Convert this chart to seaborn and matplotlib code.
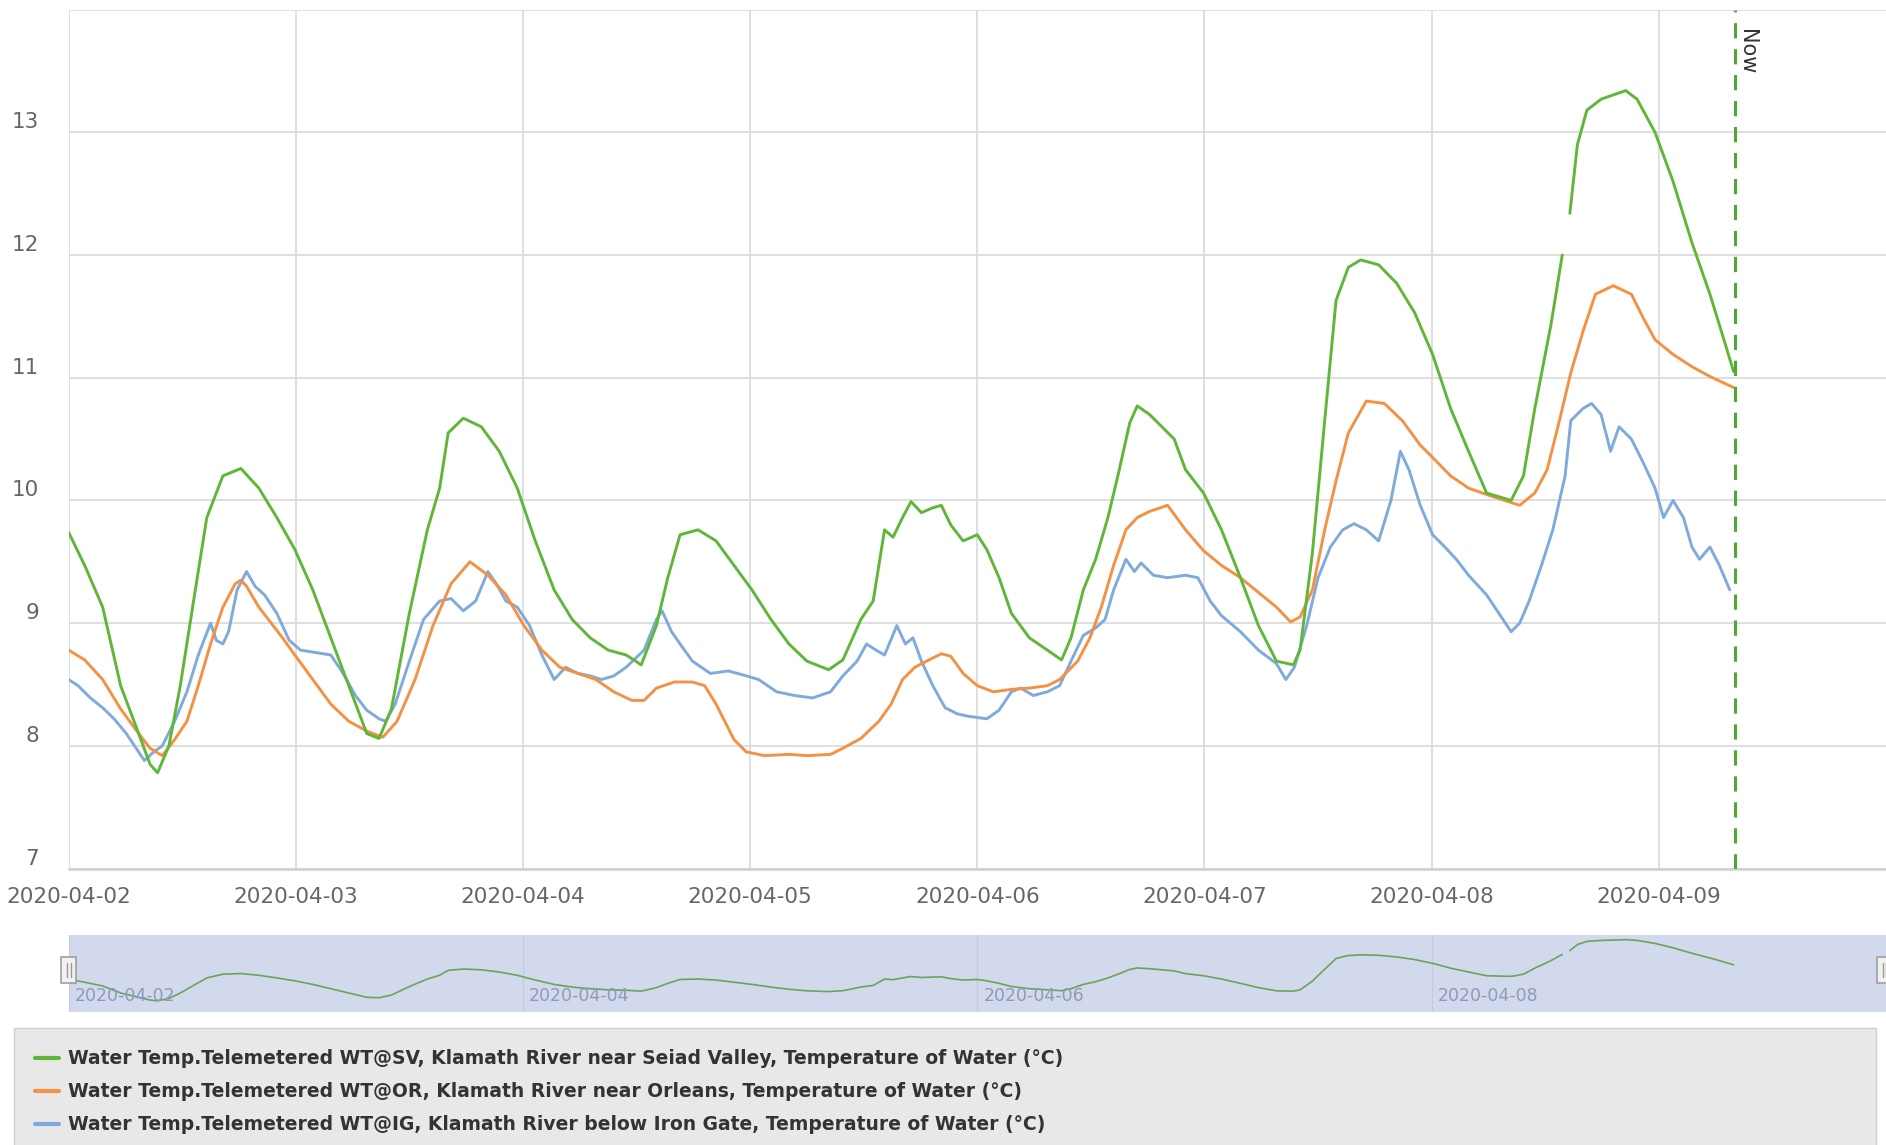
import pandas as pd
import matplotlib
matplotlib.use("Agg")
import matplotlib.pyplot as plt
import matplotlib.dates as mdates
import matplotlib.transforms as mtransforms
from matplotlib.lines import Line2D
from matplotlib.patches import Rectangle
import seaborn as sns

# === Data (hours since 2020-04-02 00:00, deg C) ===
start = pd.Timestamp("2020-04-02 00:00")
now_hours = 176.0
sv_gap_hour = 158.2  # telemetry gap in the Seiad Valley record

sv_hours = [0.0, 1.7, 3.6, 5.5, 7.4, 8.6, 9.4, 10.6, 11.8, 13.1, 14.6, 15.6, 16.3, 18.2, 20.1,
            22.0, 23.9, 25.8, 27.7, 29.6, 31.5, 32.8, 34.1, 36.0, 37.9, 39.2, 40.1, 41.7, 43.6,
            45.5, 47.4, 49.3, 51.3, 53.2, 55.1, 57.0, 58.9, 60.5, 62.1, 63.3, 64.6, 66.5, 68.4,
            70.3, 72.2, 74.2, 76.1, 78.0, 80.3, 81.8, 83.7, 85.0, 86.2, 87.1, 88.1, 89.0, 90.1,
            91.3, 92.2, 93.2, 94.5, 96.0, 97.0, 98.3, 99.6, 101.5, 103.4, 104.9, 105.9, 107.2,
            108.5, 109.8, 111.0, 112.1, 112.9, 114.2, 115.5, 116.8, 118.0, 119.9, 121.8, 123.8,
            125.7, 127.6, 129.4, 130.1, 131.4, 132.7, 133.9, 135.2, 136.5, 138.4, 140.3, 142.2,
            144.1, 146.0, 147.9, 149.8, 152.4, 153.7, 154.9, 156.6, 157.8, 158.6, 159.4, 160.4,
            161.9, 164.5, 165.7, 167.6, 169.5, 171.5, 173.4, 174.6, 175.9]
sv_temp = [9.74, 9.47, 9.13, 8.49, 8.10, 7.85, 7.78, 8.0, 8.49, 9.13, 9.86, 10.06, 10.2, 10.26, 10.1,
           9.86, 9.6, 9.27, 8.88, 8.49, 8.1, 8.06, 8.3, 9.08, 9.76, 10.1, 10.55, 10.67, 10.6,
           10.4, 10.1, 9.67, 9.27, 9.03, 8.88, 8.78, 8.74, 8.66, 8.98, 9.37, 9.72, 9.76, 9.67,
           9.47, 9.27, 9.03, 8.83, 8.69, 8.62, 8.7, 9.03, 9.18, 9.76, 9.7, 9.86, 9.99, 9.9,
           9.94, 9.96, 9.8, 9.67, 9.72, 9.6, 9.37, 9.08, 8.88, 8.78, 8.7, 8.88, 9.27,
           9.52, 9.86, 10.25, 10.63, 10.77, 10.7, 10.6, 10.5, 10.25, 10.06, 9.76, 9.37,
           8.98, 8.69, 8.66, 8.78, 9.57, 10.65, 11.63, 11.9, 11.96, 11.92, 11.77, 11.53,
           11.19, 10.75, 10.4, 10.06, 10.0, 10.2, 10.75, 11.43, 12.0, 12.34, 12.9, 13.18,
           13.27, 13.34, 13.27, 13.0, 12.6, 12.1, 11.68, 11.38, 11.05]

or_hours = [0.0, 1.7, 3.6, 5.5, 7.4, 8.6, 9.9, 11.2, 12.5, 13.7, 15.0, 16.3, 17.6, 18.2, 18.8,
            20.1, 21.4, 22.6, 23.9, 25.8, 27.7, 29.6, 31.5, 33.2, 34.7, 36.6, 38.5, 40.4, 42.4,
            44.3, 46.2, 48.1, 50.0, 51.9, 53.8, 55.7, 57.6, 59.5, 60.8, 62.1, 64.0, 65.9, 67.2,
            68.4, 70.3, 71.6, 73.5, 76.1, 78.0, 80.5, 81.8, 83.7, 85.6, 86.9, 88.1, 89.4, 90.9,
            92.2, 93.2, 94.5, 96.0, 97.7, 99.6, 101.5, 103.4, 104.7, 106.6, 107.9, 109.1, 110.4,
            111.7, 112.9, 114.2, 116.1, 118.0, 119.9, 121.8, 123.8, 125.7, 127.6, 129.1, 130.1,
            131.4, 132.7, 133.9, 135.2, 137.1, 139.0, 140.9, 142.8, 144.1, 146.0, 147.9, 150.5,
            153.3, 154.9, 156.2, 157.5, 158.7, 160.0, 161.3, 163.2, 165.1, 166.4, 167.6, 169.5,
            171.5, 173.4, 175.9]
or_temp = [8.78, 8.7, 8.54, 8.3, 8.1, 7.98, 7.92, 8.05, 8.2, 8.49, 8.83, 9.13, 9.32, 9.35, 9.3,
           9.13, 9.0, 8.88, 8.74, 8.54, 8.34, 8.2, 8.12, 8.07, 8.2, 8.54, 8.98, 9.32, 9.5,
           9.39, 9.23, 8.98, 8.78, 8.64, 8.59, 8.54, 8.44, 8.37, 8.37, 8.47, 8.52, 8.52, 8.49,
           8.34, 8.05, 7.95, 7.92, 7.93, 7.92, 7.93, 7.98, 8.06, 8.2, 8.34, 8.54, 8.64, 8.7,
           8.75, 8.73, 8.59, 8.49, 8.44, 8.46, 8.47, 8.49, 8.54, 8.69, 8.88, 9.13, 9.47,
           9.76, 9.86, 9.91, 9.96, 9.76, 9.59, 9.47, 9.37, 9.25, 9.13, 9.01, 9.05,
           9.27, 9.76, 10.16, 10.55, 10.81, 10.79, 10.65, 10.45, 10.35, 10.2, 10.1, 10.03,
           9.96, 10.06, 10.25, 10.65, 11.04, 11.38, 11.68, 11.75, 11.68, 11.48, 11.31, 11.19,
           11.09, 11.01, 10.92]

ig_hours = [0.0, 1.0, 2.3, 3.6, 4.8, 6.1, 7.4, 8.0, 9.0, 9.9, 11.2, 12.5, 13.7, 15.0, 15.6,
            16.3, 16.9, 17.8, 18.8, 19.7, 20.7, 22.0, 23.3, 24.5, 26.1, 27.7, 29.0, 30.3, 31.5,
            32.8, 33.5, 34.5, 36.0, 37.5, 39.2, 40.4, 41.7, 43.0, 44.3, 45.2, 46.2, 47.4, 48.7,
            50.0, 51.3, 52.5, 53.8, 55.1, 56.3, 57.6, 58.9, 60.8, 62.1, 62.7, 63.7, 64.6, 65.9,
            67.8, 69.7, 71.6, 72.9, 74.8, 76.7, 78.6, 80.5, 81.8, 83.3, 84.3, 85.3, 86.2, 87.5,
            88.4, 89.2, 90.1, 91.3, 92.6, 93.9, 95.1, 97.0, 98.3, 99.6, 100.6, 101.9, 103.4,
            104.7, 105.9, 107.2, 108.5, 109.5, 110.4, 111.7, 112.6, 113.3, 114.6, 116.1, 118.0,
            119.3, 120.6, 121.8, 123.8, 125.7, 127.6, 128.6, 129.5, 130.8, 132.0, 133.3, 134.6,
            135.8, 137.1, 138.4, 139.7, 140.7, 141.6, 142.8, 144.1, 145.4, 146.6, 147.9, 149.8,
            151.1, 152.4, 153.3, 154.3, 155.6, 156.8, 158.1, 158.7, 160.0, 160.9, 161.9, 162.9,
            163.8, 165.1, 166.4, 167.6, 168.5, 169.5, 170.6, 171.5, 172.3, 173.4, 174.4, 175.5]
ig_temp = [8.54, 8.49, 8.39, 8.31, 8.22, 8.1, 7.95, 7.88, 7.95, 8.0, 8.2, 8.44, 8.74, 9.0, 8.86,
           8.83, 8.93, 9.27, 9.42, 9.3, 9.23, 9.08, 8.86, 8.78, 8.76, 8.74, 8.59, 8.41, 8.29,
           8.22, 8.2, 8.34, 8.69, 9.03, 9.18, 9.2, 9.1, 9.18, 9.42, 9.32, 9.18, 9.13, 8.98,
           8.74, 8.54, 8.64, 8.59, 8.57, 8.54, 8.57, 8.64, 8.78, 9.03, 9.1, 8.93, 8.83, 8.69,
           8.59, 8.61, 8.57, 8.54, 8.44, 8.41, 8.39, 8.44, 8.57, 8.69, 8.83, 8.78, 8.74, 8.98,
           8.83, 8.88, 8.69, 8.49, 8.31, 8.26, 8.24, 8.22, 8.29, 8.44, 8.47, 8.41, 8.44,
           8.49, 8.69, 8.9, 8.96, 9.03, 9.27, 9.52, 9.42, 9.49, 9.39, 9.37, 9.39,
           9.37, 9.18, 9.06, 8.93, 8.78, 8.67, 8.54, 8.64, 8.98, 9.37, 9.62, 9.76,
           9.81, 9.76, 9.67, 10.0, 10.4, 10.25, 9.96, 9.72, 9.62, 9.52, 9.39, 9.23,
           9.08, 8.93, 9.0, 9.18, 9.47, 9.76, 10.2, 10.65, 10.75, 10.79, 10.7, 10.4,
           10.6, 10.5, 10.3, 10.1, 9.86, 10.0, 9.86, 9.62, 9.52, 9.62, 9.47, 9.27]

labels = [
    "Water Temp.Telemetered WT@SV, Klamath River near Seiad Valley, Temperature of Water (°C)",
    "Water Temp.Telemetered WT@OR, Klamath River near Orleans, Temperature of Water (°C)",
    "Water Temp.Telemetered WT@IG, Klamath River below Iron Gate, Temperature of Water (°C)",
]
colors = ["#5fb639", "#f39145", "#7faadc"]
y_ticks = [7, 8, 9, 10, 11, 12, 13, 14]
x_tick_days = pd.date_range("2020-04-02", "2020-04-09", freq="D")
nav_tick_days = pd.date_range("2020-04-02", "2020-04-08", freq="2D")


def to_frame(hours, temps):
    df = pd.DataFrame({"hours": hours, "temp": temps})
    df["time"] = start + pd.to_timedelta(df["hours"], unit="h")
    return df


sv = to_frame(sv_hours, sv_temp)
sv["seg"] = (sv["hours"] > sv_gap_hour).astype(int)
orl = to_frame(or_hours, or_temp)
ig = to_frame(ig_hours, ig_temp)
now_time = start + pd.Timedelta(hours=now_hours)
x_min, x_max = start, start + pd.Timedelta(days=8)

# === Figure layout (pixel based) ===
sns.set_style("white")
plt.rcParams["font.family"] = ["DejaVu Sans"]
W, H = 1886, 1145
fig = plt.figure(figsize=(W / 100, H / 100), dpi=100)
ax = fig.add_axes([68.6 / W, 1 - 868.5 / H, 1 - 68.6 / W, (868.5 - 9.6) / H])
nav = fig.add_axes([68.6 / W, 1 - 1011.6 / H, 1 - 68.6 / W, 77 / H])

# === Main chart ===
lw = 2.1
sns.lineplot(data=ig, x="time", y="temp", ax=ax, color=colors[2], lw=lw, estimator=None, sort=False)
sns.lineplot(data=orl, x="time", y="temp", ax=ax, color=colors[1], lw=lw, estimator=None, sort=False)
sns.lineplot(data=sv, x="time", y="temp", units="seg", ax=ax, color=colors[0], lw=lw,
             estimator=None, sort=False)

ax.axvline(now_time, color="#4fa832", lw=2.2, dashes=(5, 3.5), zorder=5)
ax.text(now_time, 0.951, "Now", rotation=270, ha="center", va="center", fontsize=15,
        color="#333333",
        transform=mtransforms.blended_transform_factory(ax.transData, ax.transAxes)
        + mtransforms.ScaledTranslation(12 / 100, 0, fig.dpi_scale_trans))

ax.set_xlim(x_min, x_max)
ax.set_ylim(7, 14)
ax.set_yticks(y_ticks)
ax.set_yticklabels([str(v) for v in y_ticks[:-1]] + [""])
ax.set_xticks(x_tick_days)
ax.xaxis.set_major_formatter(mdates.DateFormatter("%Y-%m-%d"))
ax.set_xlabel("")
ax.set_ylabel("")
ax.grid(True, color="#d9d9d9", lw=1.2)
for side in ["top", "right", "left"]:
    ax.spines[side].set_visible(False)
ax.spines["bottom"].set_color("#d0d0d0")
ax.spines["bottom"].set_linewidth(1.8)
ax.tick_params(axis="x", length=11, width=1.0, color="#d9d9d9", pad=2, labelsize=15.5,
               labelcolor="#666666")
ax.tick_params(axis="y", length=0, pad=21, labelsize=15.5, labelcolor="#666666")
for lab in ax.get_yticklabels():
    lab.set_transform(lab.get_transform() + mtransforms.ScaledTranslation(0, 12 / 100, fig.dpi_scale_trans))

# === Navigator ===
nav.set_facecolor("#d2d9ec")
sns.lineplot(data=sv, x="time", y="temp", units="seg", ax=nav, color="#6aa45c", lw=1.2,
             estimator=None, sort=False)
nav.set_xlim(x_min, x_max)
nav.set_ylim(6.8, 13.8)
nav.set_xticks(nav_tick_days)
nav.grid(True, axis="x", color="#c3cbe0", lw=1.0)
nav.set_yticks([])
nav.tick_params(axis="x", length=0, labelbottom=False)
nav.set_xlabel("")
nav.set_ylabel("")
for s in nav.spines.values():
    s.set_visible(False)
for d in nav_tick_days:
    nav.text(d, 0.2, d.strftime("%Y-%m-%d"), ha="left", va="center", fontsize=12.5,
             color="#8e9abb",
             transform=mtransforms.blended_transform_factory(nav.transData, nav.transAxes)
             + mtransforms.ScaledTranslation(6 / 100, 0, fig.dpi_scale_trans))

# navigator handles
for hx in [61 / W, 1877 / W]:
    fig.add_artist(Rectangle((hx, 1 - 983 / H), 15 / W, 26 / H, transform=fig.transFigure,
                             facecolor="#f2f2f2", edgecolor="#a0a0a0", lw=1.2))
    for dx in [5.5, 9.5]:
        fig.add_artist(Line2D([hx + dx / W] * 2, [1 - 977 / H, 1 - 963 / H],
                              transform=fig.transFigure, color="#999999", lw=1))

# === Legend ===
handles = [Line2D([], [], color=c, lw=3) for c in colors]
fig.legend(handles, labels, loc="upper left", mode="expand",
           bbox_to_anchor=(14.4 / W, 1 - 1029.6 / H, 1862 / W, 0.001),
           frameon=True, fancybox=False, facecolor="#e8e8e8", edgecolor="#cfcfcf",
           framealpha=1, prop={"size": 13.5, "weight": "bold"}, labelcolor="#333333",
           handlelength=1.3, handletextpad=0.45, borderpad=1.1, labelspacing=0.75,
           borderaxespad=0)

fig.savefig("out.png", dpi=100)
